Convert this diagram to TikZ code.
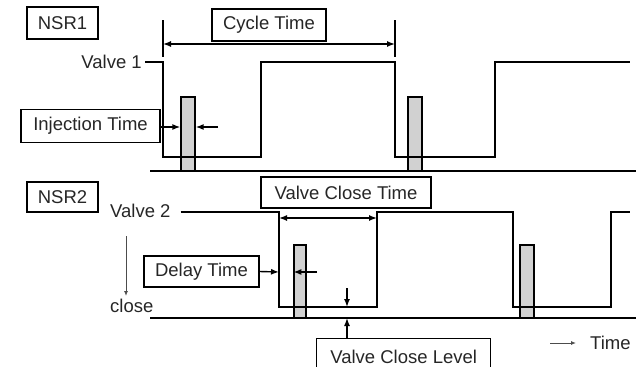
\documentclass[tikz,border=0pt]{standalone}
\usepackage{fontspec}
\setmainfont{Liberation Sans}
\usetikzlibrary{arrows.meta}
\begin{document}
\begin{tikzpicture}[x=1pt,y=-1pt,
  lbl/.style={draw, line width=1.3pt, inner sep=0pt, text=black!85, font=\fontsize{18.5}{20}\selectfont},
  txt/.style={inner sep=0pt, text=black!85, font=\fontsize{18.5}{20}\selectfont},
  wave/.style={line width=1.4pt},
  bar/.style={draw, line width=1.3pt, fill=black!18, inner sep=0pt},
  arr/.style={-{Latex[length=8pt,width=6pt]}, line width=1.4pt},
  darr/.style={{Latex[length=8pt,width=6pt]}-{Latex[length=8pt,width=6pt]}, line width=1.4pt},
  thin arr/.style={-{Latex[length=5pt,width=4pt]}, line width=0.9pt, draw=black!70}]
\useasboundingbox (0,0) rectangle (638,367);

% labels
\node[lbl, minimum width=71pt, minimum height=32pt] (nsr1) at (62.5,23) {NSR1};
\node[lbl, minimum width=114pt, minimum height=32pt] (ct) at (269,25) {Cycle Time};
\node[lbl, minimum width=139pt, minimum height=33pt] (inj) at (90.5,126) {Injection Time};
\node[lbl, minimum width=71pt, minimum height=30pt] (nsr2) at (62.5,197) {NSR2};
\node[lbl, minimum width=170pt, minimum height=31pt] (vct) at (346,192.5) {Valve Close Time};
\node[lbl, minimum width=115pt, minimum height=31pt] (dt) at (201.5,271.5) {Delay Time};
\node[lbl, minimum width=174pt, minimum height=36pt, anchor=north west] (vcl) at (316,338) {Valve Close Level};

\node[txt, anchor=east] (v1) at (142,62) {Valve 1};
\node[txt, anchor=west] (v2) at (110,211) {Valve 2};
\node[txt, anchor=west] (cl) at (110,306) {close};
\node[txt, anchor=west] (tm) at (590,343) {Time};

% injection bars
\node[bar, minimum width=14pt, minimum height=74pt] (b1) at (188,134) {};
\node[bar, minimum width=14pt, minimum height=74pt] (b2) at (415,134) {};
\node[bar, minimum width=12pt, minimum height=73pt] (b3) at (300,281.5) {};
\node[bar, minimum width=14pt, minimum height=73pt] (b4) at (527,281.5) {};

% baselines
\coordinate (l1a) at (150,171); \coordinate (l1b) at (636,171);
\coordinate (l2a) at (150,318); \coordinate (l2b) at (636,318);
\draw[wave] (l1a) -- (l1b);
\draw[wave] (l2a) -- (l2b);

% waveform 1
\draw[wave] ([xshift=3pt]v1.east) -- (163,62) -- (163,157) -- (261,157) -- (261,62)
  -- (395,62) -- (395,157) -- (495,157) -- (495,62) -- (630,62);
% waveform 2
\draw[wave] ([xshift=10pt]v2.east |- 0,212) -- (279,212) -- (279,307) -- (377,307) -- (377,212)
  -- (513,212) -- (513,307) -- (611,307) -- (611,212) -- (630,212);

% cycle time
\coordinate (c1t) at (163,20); \coordinate (c1b) at (163,57);
\coordinate (c2t) at (395,20); \coordinate (c2b) at (395,57);
\draw[wave] (c1t) -- (c1b);
\draw[wave] (c2t) -- (c2b);
\coordinate (ca) at (163,44); \coordinate (cb) at (395,44);
\draw[darr] (ca) -- (cb);

% injection time
\draw[arr] (inj.east |- 0,127) -- (b1.west |- 0,127);
\coordinate (injr) at (218,127);
\draw[arr] (injr) -- (b1.east |- injr);

% valve close time
\coordinate (va) at (279,218); \coordinate (vb) at (377,218);
\draw[darr] (va) -- (vb);

% delay time
\coordinate (dtedge) at (279,272);
\draw[arr] (dt.east) -- (dtedge);
\coordinate (dtr) at (317,272);
\draw[arr] (dtr) -- (b3.west |- dtr);

% valve close level
\coordinate (vlt) at (347,288); \coordinate (vlb) at (347,307);
\draw[arr] (vlt) -- (vlb);
\coordinate (vlu) at (347,318);
\draw[arr] (vcl.north west -| vlu) -- (vlu);

% close arrow
\coordinate (cla) at (126,236); \coordinate (clb) at (126,296);
\draw[thin arr] (cla) -- (clb);

% time arrow
\coordinate (ta) at (550,343);
\draw[thin arr] (ta) -- ([xshift=-14pt]tm.west);
\end{tikzpicture}
\end{document}
